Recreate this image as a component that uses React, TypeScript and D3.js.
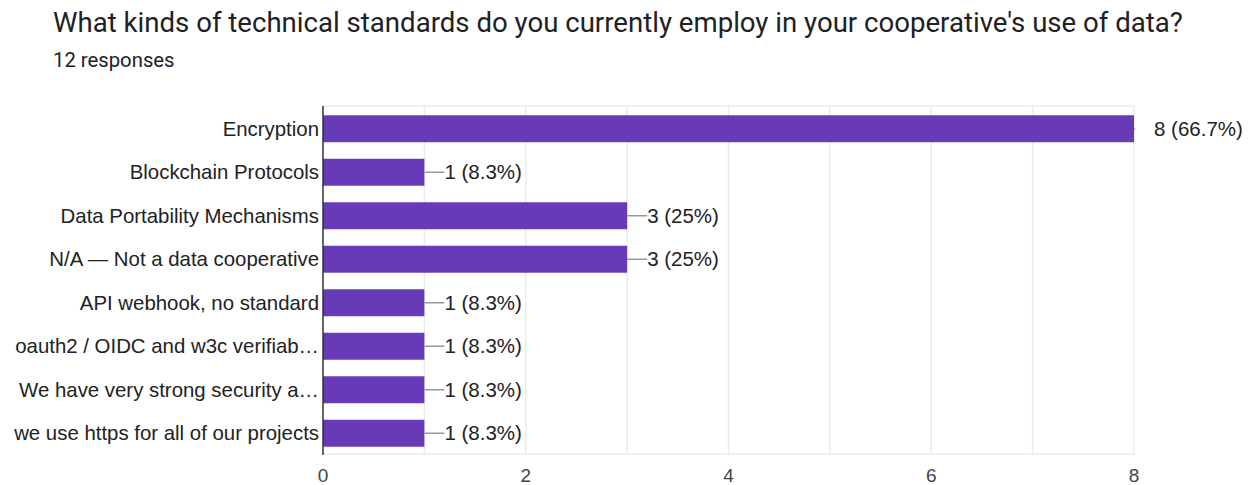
import React from "react";
import * as d3 from "d3";

const categories = [
  "Encryption",
  "Blockchain Protocols",
  "Data Portability Mechanisms",
  "N/A — Not a data cooperative",
  "API webhook, no standard",
  "oauth2 / OIDC and w3c verifiab…",
  "We have very strong security a…",
  "we use https for all of our projects",
];
const counts = [8, 1, 3, 3, 1, 1, 1, 1];
const percentLabels = ["66.7%", "8.3%", "25%", "25%", "8.3%", "8.3%", "8.3%", "8.3%"];
const xTicks = [0, 2, 4, 6, 8];
const gridValues = [1, 2, 3, 4, 5, 6, 7, 8];
const title = "What kinds of technical standards do you currently employ in your cooperative's use of data?";
const subtitle = "12 responses";

const W = 1253;
const H = 485;
const left = 323;
const right = 1134;
const top = 107;
const bottom = 455;

export default function App() {
  const x = d3.scaleLinear().domain([0, 8]).range([left, right]);
  const y = d3.scaleBand<string>().domain(categories).range([top, bottom]).paddingInner(0.38).paddingOuter(0.19);
  const font = "Arial, 'Liberation Sans', sans-serif";
  return (
    <svg width={W} height={H} style={{ position: "absolute", left: 0, top: 0, background: "#fff" }}>
      <defs>
        <clipPath id="plot">
          <rect x={left} y={top - 1} width={right - left + 1} height={bottom - top + 2} />
        </clipPath>
      </defs>
      <text x={53} y={32} fontFamily="Roboto, sans-serif" fontSize={27.6} fill="#202124">{title}</text>
      <text x={53} y={67} fontFamily="Roboto, sans-serif" fontSize={20.3} fill="#202124">{subtitle}</text>
      {/* grid */}
      <line x1={left} x2={right} y1={top - 1} y2={top - 1} stroke="#ebebeb" strokeWidth={1.5} />
      <line x1={left} x2={right} y1={bottom - 1} y2={bottom - 1} stroke="#ebebeb" strokeWidth={1.5} />
      {gridValues.map((v) => (
        <line key={v} x1={x(v)} x2={x(v)} y1={top - 1} y2={bottom} stroke="#ebebeb" strokeWidth={1.5} />
      ))}
      {/* bars */}
      {categories.map((c, i) => (
        <rect key={c} x={x(0)} y={y(c)!} width={x(counts[i]) - x(0)} height={y.bandwidth()} fill="#673ab7" />
      ))}
      {/* leader lines */}
      <g clipPath="url(#plot)">
        {categories.map((c, i) => (
          <line key={c} x1={x(counts[i])} x2={x(counts[i]) + 20} y1={y(c)! + y.bandwidth() / 2} y2={y(c)! + y.bandwidth() / 2} stroke="#999" strokeWidth={1.5} />
        ))}
      </g>
      {/* value labels */}
      {categories.map((c, i) => (
        <text key={c} x={x(counts[i]) + 20} y={y(c)! + y.bandwidth() / 2} dy="0.35em" fontFamily={font} fontSize={20.5} fill="#222">
          {`${counts[i]} (${percentLabels[i]})`}
        </text>
      ))}
      {/* category labels */}
      {categories.map((c) => (
        <text key={c} x={left - 4} y={y(c)! + y.bandwidth() / 2} dy="0.35em" textAnchor="end" fontFamily={font} fontSize={20.4} fill="#222">
          {c}
        </text>
      ))}
      {/* axis line */}
      <line x1={left} x2={left} y1={top - 1} y2={bottom} stroke="#333" strokeWidth={1.5} />
      {/* x ticks */}
      {xTicks.map((t) => (
        <text key={t} x={x(t)} y={482} textAnchor="middle" fontFamily={font} fontSize={19} fill="#444">
          {t}
        </text>
      ))}
    </svg>
  );
}
